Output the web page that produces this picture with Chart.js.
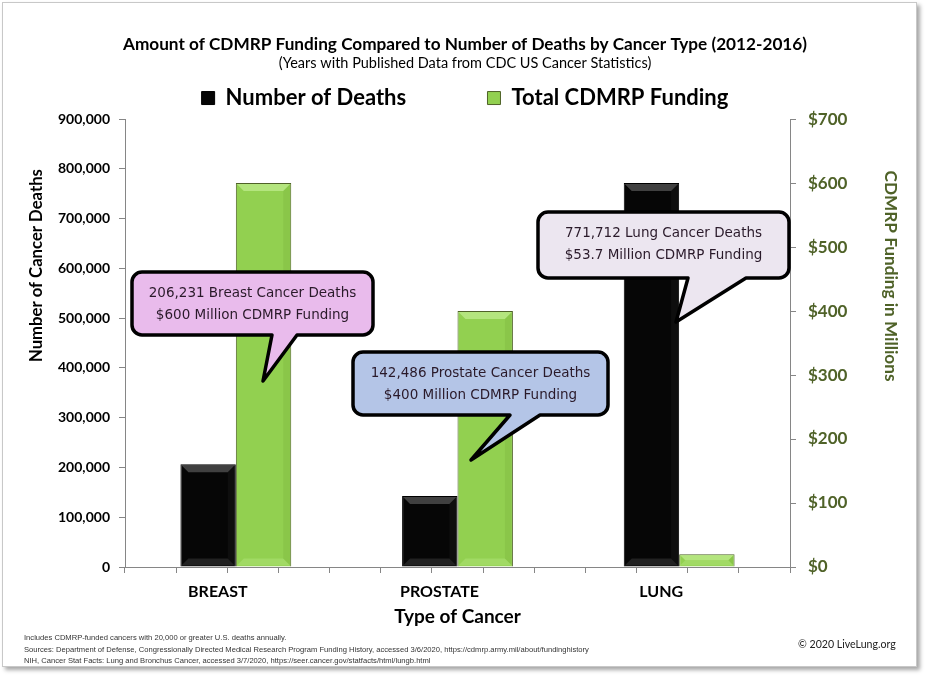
<!DOCTYPE html>
<html>
<head>
<meta charset="utf-8">
<script src="https://cdn.jsdelivr.net/npm/chart.js@4.4.1/dist/chart.umd.min.js"></script>
<style>
  body { margin: 0; background: #fff; }
  #card {
    position: absolute; left: 2px; top: 2px; width: 913px; height: 663px;
    border: 1px solid #c8c8c8; box-shadow: 3px 3px 4px rgba(0,0,0,0.35); background: #fff;
  }
  #chart { position: absolute; left: 0; top: 0; }
  #notes {
    position: absolute; left: 24px; top: 632px; font: 7.6px "Liberation Sans", Arial, sans-serif;
    color: #333; line-height: 11.5px;
  }
  #copy {
    position: absolute; left: 798px; top: 638px; font: 10.6px Lato, sans-serif; color: #222;
  }
</style>
</head>
<body>
<div id="card"></div>
<canvas id="chart" width="925" height="675"></canvas>
<div id="notes">
  Includes CDMRP-funded cancers with 20,000 or greater U.S. deaths annually.<br>
  Sources: Department of Defense, Congressionally Directed Medical Research Program Funding History, accessed 3/6/2020, https://cdmrp.army.mil/about/fundinghistory<br>
  NIH, Cancer Stat Facts: Lung and Bronchus Cancer, accessed 3/7/2020, https://seer.cancer.gov/statfacts/html/lungb.html
</div>
<div id="copy">© 2020 LiveLung.org</div>
<script>
// data
const cancerTypes = ['BREAST', 'PROSTATE', 'LUNG'];
const cancerNames = ['Breast', 'Prostate', 'Lung'];
const deaths = [206231, 142486, 771712];
const funding = [600, 400, 20];          // bar heights, $ millions
const fundingStated = ['600', '400', '53.7'];  // as written in the callouts
const deathTicks = [0, 900000, 100000];  // min, max, step
const fundingTicks = [0, 700, 100];

const OLIVE = '#4f6228';
const AXIS = '#868686';
const EM = '\u2003';
const EM4 = EM + EM + EM + EM;

// speech bubbles (layout only)
const bubbles = [
  { box: [132, 272, 241, 63], tail: [[272, 335], [297, 335], [263, 381]], fill: '#e9bbec' },
  { box: [353, 352, 255, 63], tail: [[510, 415], [540, 415], [471, 460]], fill: '#b4c5e7' },
  { box: [538, 212, 251, 66], tail: [[688, 278], [746, 278], [676, 322]], fill: '#ece6f0' }
];

function bubblePath(ctx, b) {
  const [x, y, w, h] = b.box;
  const r = 10;
  const [bl, br, tip] = b.tail;
  ctx.beginPath();
  ctx.moveTo(x + r, y);
  ctx.arcTo(x + w, y, x + w, y + h, r);
  ctx.arcTo(x + w, y + h, x, y + h, r);
  ctx.lineTo(br[0], br[1]);
  ctx.lineTo(tip[0], tip[1]);
  ctx.lineTo(bl[0], bl[1]);
  ctx.arcTo(x, y + h, x, y, r);
  ctx.arcTo(x, y, x + w, y, r);
  ctx.closePath();
}

const calloutPlugin = {
  id: 'callouts',
  afterDraw(chart) {
    const ctx = chart.ctx;
    ctx.save();
    bubbles.forEach((b, i) => {
      bubblePath(ctx, b);
      ctx.fillStyle = b.fill;
      ctx.fill();
      ctx.lineWidth = 3.5;
      ctx.lineJoin = 'round';
      ctx.strokeStyle = '#000';
      ctx.stroke();
      const [x, y, w] = b.box;
      ctx.fillStyle = '#2a1a2a';
      ctx.font = '13.5px "DejaVu Sans"';
      ctx.textAlign = 'center';
      ctx.textBaseline = 'middle';
      ctx.fillText(`${deaths[i].toLocaleString('en-US')} ${cancerNames[i]} Cancer Deaths`, x + w / 2, y + 21);
      ctx.fillText(`$${fundingStated[i]} Million CDMRP Funding`, x + w / 2, y + 43);
    });
    ctx.restore();
  }
};

// bevelled look on the bars
const bevelPlugin = {
  id: 'bevel',
  afterDatasetsDraw(chart) {
    const ctx = chart.ctx;
    const shades = [
      { top: 'rgba(75,75,75,0.85)', bottom: 'rgba(40,40,40,0.8)', side: 'rgba(20,20,20,0.6)' },
      { top: 'rgba(195,238,145,0.7)', bottom: 'rgba(175,228,120,0.5)', side: 'rgba(120,175,60,0.3)' }
    ];
    chart.data.datasets.forEach((ds, d) => {
      chart.getDatasetMeta(d).data.forEach(bar => {
        const l = bar.x - bar.width / 2 + 1, r = bar.x + bar.width / 2 - 1;
        const t = bar.y + 1, btm = bar.base - 1;
        const bv = Math.min(7, (btm - t) / 2);
        const s = shades[d];
        ctx.save();
        ctx.fillStyle = s.top;
        ctx.beginPath();
        ctx.moveTo(l, t); ctx.lineTo(r, t); ctx.lineTo(r - bv, t + bv); ctx.lineTo(l + bv, t + bv);
        ctx.fill();
        ctx.fillStyle = s.bottom;
        ctx.beginPath();
        ctx.moveTo(l, btm); ctx.lineTo(r, btm); ctx.lineTo(r - bv, btm - bv); ctx.lineTo(l + bv, btm - bv);
        ctx.fill();
        ctx.fillStyle = s.side;
        ctx.beginPath();
        ctx.moveTo(r, t); ctx.lineTo(r, btm); ctx.lineTo(r - bv, btm - bv); ctx.lineTo(r - bv, t + bv);
        ctx.fill();
        ctx.restore();
      });
    });
  }
};

const ctx = document.getElementById('chart').getContext('2d');
new Chart(ctx, {
  type: 'bar',
  data: {
    labels: cancerTypes,
    datasets: [{
      label: 'Number of Deaths',
      data: deaths,
      yAxisID: 'y',
      xAxisID: 'x',
      backgroundColor: '#060606',
      borderColor: '#000',
      borderWidth: 1
    }, {
      label: 'Total CDMRP Funding',
      data: funding,
      yAxisID: 'y1',
      xAxisID: 'x',
      backgroundColor: '#92d050',
      borderColor: '#4f6228',
      borderWidth: 1
    }]
  },
  options: {
    responsive: false,
    animation: false,
    devicePixelRatio: 1,
    categoryPercentage: 0.5,
    barPercentage: 1,
    layout: { padding: { left: 27, right: 22, top: 10, bottom: 47 } },
    plugins: {
      tooltip: { enabled: false },
      title: {
        display: true,
        text: 'Amount of CDMRP Funding Compared to Number of Deaths by Cancer Type (2012-2016)',
        color: '#000',
        font: { family: 'Lato', size: 17.2, weight: 'bold' },
        padding: { top: 23.7, bottom: 0 }
      },
      subtitle: {
        display: true,
        text: '(Years with Published Data from CDC US Cancer Statistics)',
        color: '#000',
        font: { family: 'Lato', size: 14.5 },
        padding: { top: 0, bottom: 0 }
      },
      legend: {
        position: 'top',
        labels: {
          color: '#000',
          font: { family: 'Lato', size: 22, weight: 'bold' },
          boxWidth: 13,
          boxHeight: 13,
          padding: 15.3,
          generateLabels: chart => Chart.defaults.plugins.legend.labels.generateLabels(chart)
            .map((l, i) => ({ ...l, text: i === 0 ? l.text + EM4 : l.text }))
        }
      }
    },
    scales: {
      xt: {
        type: 'linear',
        position: 'bottom',
        weight: 0,
        min: 0,
        max: 12,
        ticks: { display: false, stepSize: 1 },
        grid: { drawOnChartArea: false, drawTicks: true, tickLength: 6, color: AXIS },
        border: { color: AXIS },
        afterFit: s => { s.height = 6; }
      },
      x: {
        type: 'category',
        position: 'bottom',
        weight: 1,
        grid: { display: false, drawTicks: false },
        border: { display: false },
        ticks: {
          color: '#000',
          font: { family: 'Lato', size: 16, weight: 'bold' },
          padding: 9,
          labelOffset: -18
        },
        title: {
          display: true,
          text: 'Type of Cancer',
          color: '#000',
          font: { family: 'Lato', size: 19, weight: 'bold' },
          padding: 0
        },
        afterFit: s => { s.height = 55; }
      },
      y: {
        position: 'left',
        min: deathTicks[0],
        max: deathTicks[1],
        ticks: {
          stepSize: deathTicks[2],
          color: '#000',
          font: { family: 'Lato', size: 14, weight: 'bold' },
          padding: 9,
          callback: v => v.toLocaleString('en-US')
        },
        grid: { drawOnChartArea: false, tickLength: 6, color: AXIS },
        border: { color: AXIS },
        title: {
          display: true,
          align: 'end',
          text: 'Number of Cancer Deaths' + EM4,
          color: '#000',
          font: { family: 'Lato', size: 16.7, weight: 'bold' },
          padding: 0
        },
        afterFit: s => { s.width = 98; }
      },
      y1: {
        position: 'right',
        min: fundingTicks[0],
        max: fundingTicks[1],
        ticks: {
          stepSize: fundingTicks[2],
          color: OLIVE,
          font: { family: 'Lato', size: 17, weight: 'bold' },
          padding: 12,
          callback: v => '$' + v
        },
        grid: { drawOnChartArea: false, tickLength: 6, color: AXIS },
        border: { color: AXIS },
        title: {
          display: true,
          align: 'end',
          text: EM4 + 'CDMRP Funding in Millions',
          color: OLIVE,
          font: { family: 'Lato', size: 17.2, weight: 'bold' },
          padding: { top: 2, bottom: 0 }
        },
        afterFit: s => { s.width = 113; }
      }
    }
  },
  plugins: [bevelPlugin, calloutPlugin]
});
</script>
</body>
</html>
